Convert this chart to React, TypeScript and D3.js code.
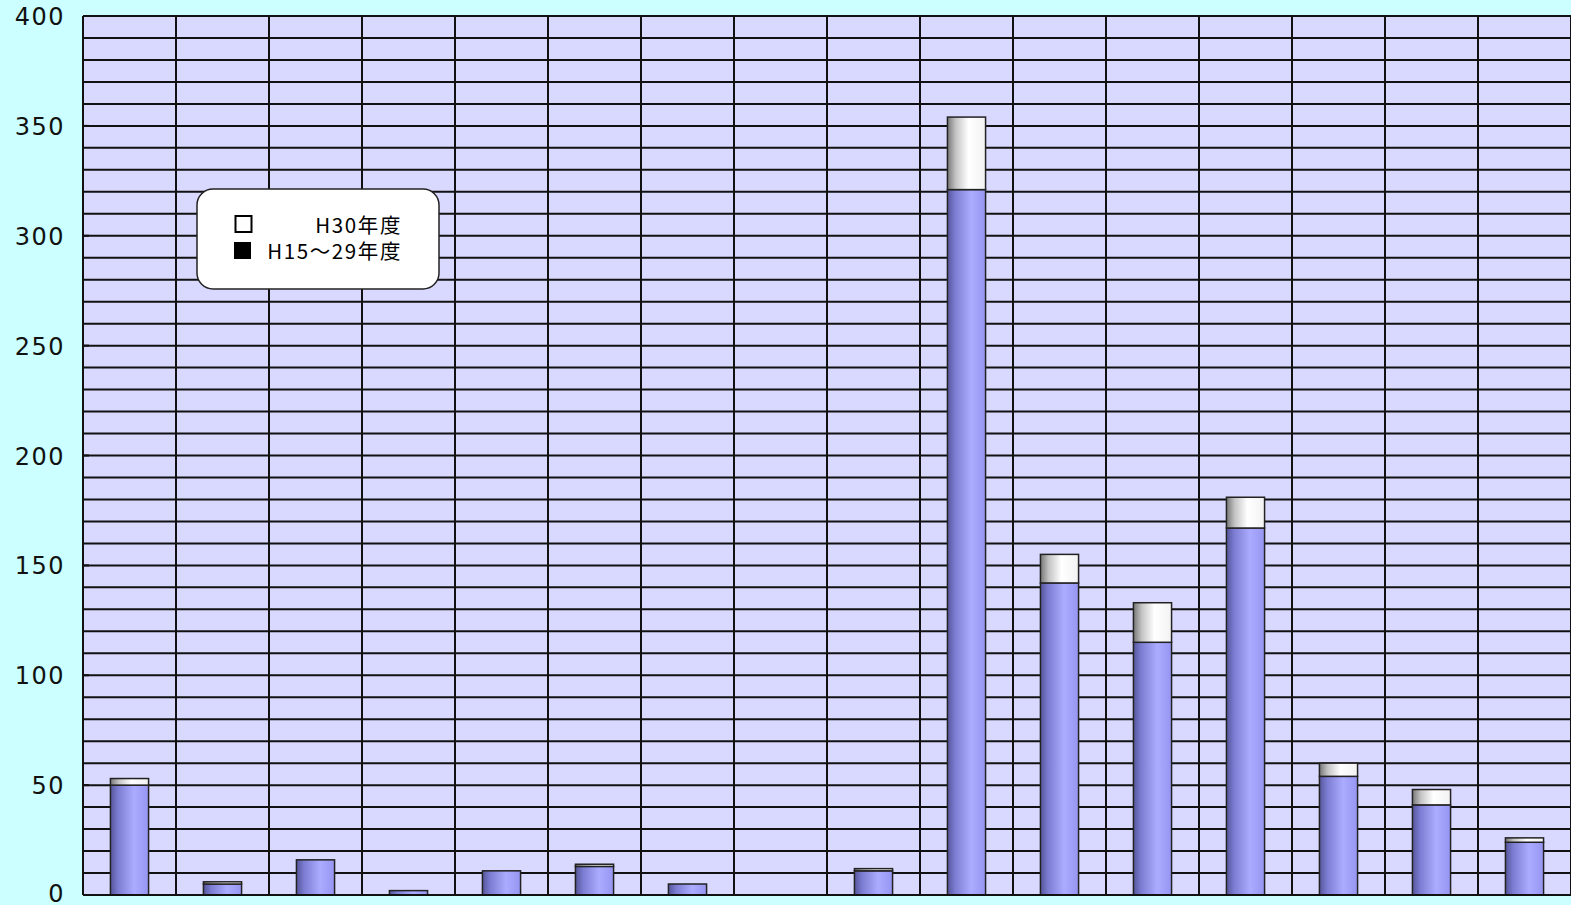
import React from "react";
import * as d3 from "d3";

const categories = ["c1","c2","c3","c4","c5","c6","c7","c8","c9","c10","c11","c12","c13","c14","c15","c16"];
const seriesH15to29 = [50, 5, 16, 2, 11, 13, 5, 0, 11, 321, 142, 115, 167, 54, 41, 24];
const seriesH30 = [3, 1, 0, 0, 0, 1, 0, 0, 1, 33, 13, 18, 14, 6, 7, 2];
const yTicks = [0, 50, 100, 150, 200, 250, 300, 350, 400];
const legendLabels = ["H30年度", "H15～29年度"];

const W = 1571, H = 905;
const M = { left: 83, top: 16, right: 0, bottom: 10 };

export default function App() {
  const x = d3.scaleBand<string>().domain(categories).range([M.left, W - M.right]).paddingInner(0).paddingOuter(0);
  const y = d3.scaleLinear().domain([0, 400]).range([895, M.top]);
  const bw = x.bandwidth() * 0.41;
  const grid = d3.range(0, 401, 10);
  const stacked = d3.stack<number>().keys(["a", "b"]).value((i, k) => (k === "a" ? seriesH15to29[i] : seriesH30[i]))(d3.range(categories.length));

  return (
    <svg width={W} height={H} style={{ position: "absolute", left: 0, top: 0, display: "block" }}>
      <defs>
        <linearGradient id="gBlue" x1="0" x2="1" y1="0" y2="0">
          <stop offset="0" stopColor="#55559a" />
          <stop offset="0.2" stopColor="#7c7cd2" />
          <stop offset="0.62" stopColor="#ababff" />
          <stop offset="1" stopColor="#9696f2" />
        </linearGradient>
        <linearGradient id="gWhite" x1="0" x2="1" y1="0" y2="0">
          <stop offset="0" stopColor="#777777" />
          <stop offset="0.22" stopColor="#c4c4c4" />
          <stop offset="0.55" stopColor="#ffffff" />
          <stop offset="1" stopColor="#f2f2f2" />
        </linearGradient>
      </defs>
      <rect x={0} y={0} width={W} height={H} fill="#ccffff" />
      <rect x={M.left} y={M.top} width={W - M.left} height={895 - M.top} fill="#d9d9ff" />
      {grid.map((g) => (
        <line key={"h" + g} x1={M.left} x2={W} y1={y(g)} y2={y(g)} stroke="#111" strokeWidth={2} />
      ))}
      {categories.map((c) => (
        <line key={"v" + c} x1={(x(c) as number) + x.bandwidth()} x2={(x(c) as number) + x.bandwidth()} y1={M.top} y2={895} stroke="#111" strokeWidth={2} />
      ))}
      <line x1={M.left} x2={M.left} y1={M.top} y2={895} stroke="#111" strokeWidth={2} />
      {yTicks.map((t) => (
        <g key={"t" + t}>
          <line x1={M.left} x2={M.left + 6} y1={y(t)} y2={y(t)} stroke="#111" strokeWidth={2} />
          <text x={65} y={t === 0 ? y(t) - 1 : y(t) + 1} textAnchor="end" dominantBaseline="central" fontFamily="DejaVu Sans" fontSize={24} letterSpacing={1.5} fill="#111">{t}</text>
        </g>
      ))}
      {categories.map((c, i) => {
        const cx = (x(c) as number) + x.bandwidth() / 2;
        const a = stacked[0][i];
        const b = stacked[1][i];
        const tot = b[1];
        if (tot <= 0) return null;
        return (
          <g key={"b" + c}>
            {a[1] > a[0] && (
              <rect x={cx - bw / 2} y={y(a[1])} width={bw} height={y(a[0]) - y(a[1])} fill="url(#gBlue)" stroke="#222" strokeWidth={1.5} />
            )}
            {b[1] > b[0] && (
              <rect x={cx - bw / 2} y={y(b[1])} width={bw} height={y(b[0]) - y(b[1])} fill="url(#gWhite)" stroke="#222" strokeWidth={1.5} />
            )}
          </g>
        );
      })}
      <line x1={M.left} x2={W} y1={895} y2={895} stroke="#111" strokeWidth={2} />
      <g>
        <rect x={197} y={189} width={242} height={100} rx={16} ry={16} fill="#ffffff" stroke="#222" strokeWidth={1.5} />
        <rect x={235.5} y={216} width={16} height={16} fill="#fff" stroke="#000" strokeWidth={2} />
        <rect x={234} y={242} width={17} height={17} fill="#000" />
        <text x={402} y={233} textAnchor="end" fontFamily="Noto Sans CJK JP" fontSize={20.5} letterSpacing={1.6} fill="#000">{legendLabels[0]}</text>
        <text x={402} y={259} textAnchor="end" fontFamily="Noto Sans CJK JP" fontSize={20.5} letterSpacing={1.6} fill="#000">{legendLabels[1]}</text>
      </g>
    </svg>
  );
}
